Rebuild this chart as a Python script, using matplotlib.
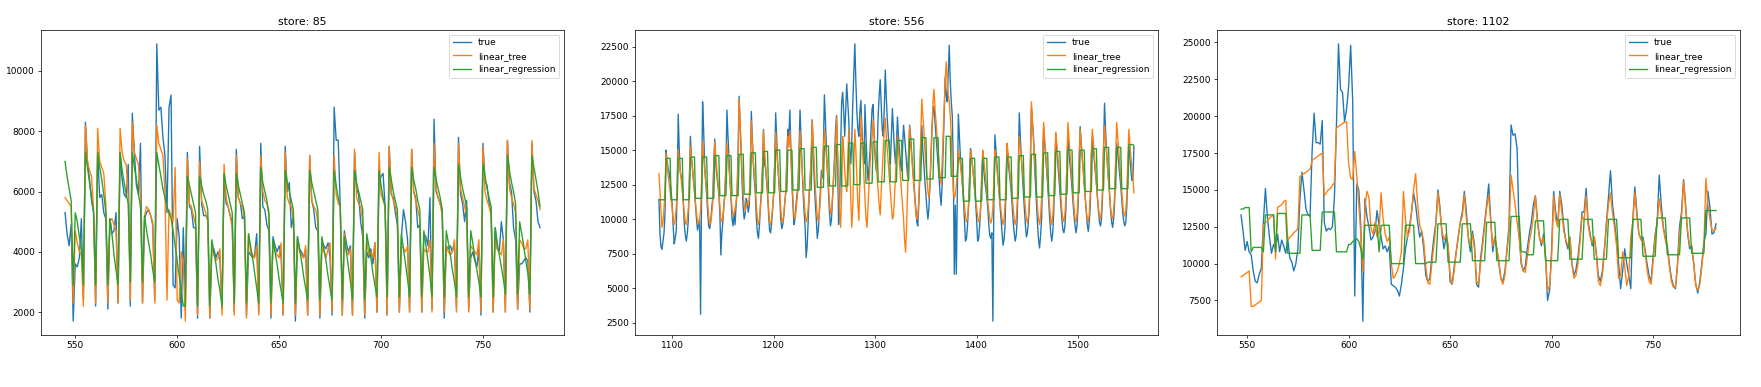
import numpy as np
import matplotlib.pyplot as plt

# values are in hundreds of sales

# ---- store 85 (x = 545 .. 778)
p1_start = 545
p1_true = [
    53, 46, 42, 49, 17,
    36, 35, 38, 51, 24,
    83, 70, 64, 57, 53, 22,
    73, 58, 59, 53, 51, 21,
    51, 46, 47, 53, 23,
    73, 64, 59, 58, 69, 22,
    86, 73, 62, 59, 76, 23,
    51, 53, 54, 52, 49, 24,
    109, 87, 88, 78, 72, 53,
    88, 92, 29, 28, 51, 45, 18, 48, 23,
    73, 55, 54, 48, 48, 18,
    75, 56, 52, 52, 51, 18,
    40, 41, 38, 40, 37, 21,
    66, 56, 55, 52, 50, 20,
    74, 58, 56, 51, 52, 19,
    40, 39, 38, 39, 46, 20,
    76, 55, 54, 49, 47, 18,
    45, 42, 40, 42, 38, 19,
    75, 60, 63, 48, 52, 17,
    45, 41, 40, 38, 41, 19,
    72, 57, 54, 48, 47, 18,
    43, 42, 41, 43, 38, 19,
    88, 77, 77, 55, 19,
    47, 43, 40, 42, 19,
    73, 61, 59, 50, 45, 18,
    40, 38, 41, 36, 43, 20,
    63, 65, 66, 55, 19,
    75, 59, 58, 53, 49, 20,
    45, 54, 50, 44, 20,
    74, 60, 58, 48, 49, 20,
    46, 45, 42, 58, 21,
    84, 60, 58, 56, 54, 18,
    42, 41, 42, 40, 43, 21,
    78, 59, 56, 50, 57, 21,
    38, 40, 37, 35, 41, 19,
    76, 64, 62, 56, 53, 20,
    48, 41, 40, 50, 44, 20,
    77, 63, 60, 48, 44, 21,
    36, 36, 37, 38, 37, 20,
    76, 60, 57, 50, 48,
]
p1_tree = [
    58, 57, 56, 55, 23,
    47, 43, 40, 39, 22,
    82, 70, 67, 65, 54, 23,
    81, 70, 68, 66, 56, 23,
    50, 51, 49, 47, 23,
    81, 73, 70, 69, 58, 24,
    83, 73, 71, 69, 58, 23,
    52, 55, 54, 52, 50, 23,
    82, 76, 74, 72, 60, 24,
    54, 52, 50, 68, 24, 23, 40, 36, 17,
    71, 56, 55, 52, 49, 19,
    70, 57, 55, 53, 50, 18,
    42, 39, 37, 38, 41, 19,
    69, 58, 55, 52, 48, 19,
    72, 58, 56, 55, 51, 18,
    46, 40, 39, 38, 42, 19,
    72, 60, 57, 56, 52, 19,
    43, 40, 39, 38, 43, 19,
    73, 58, 56, 55, 51, 19,
    44, 40, 39, 38, 42, 19,
    72, 57, 55, 54, 50, 19,
    42, 40, 38, 41, 43, 20,
    72, 59, 56, 55, 19,
    46, 40, 39, 41, 19,
    74, 58, 56, 55, 50, 19,
    44, 39, 40, 38, 43, 20,
    73, 59, 57, 55, 19,
    75, 60, 57, 55, 51, 20,
    42, 41, 40, 42, 20,
    74, 60, 57, 54, 51, 20,
    41, 40, 40, 44, 20,
    76, 61, 58, 56, 52, 20,
    42, 40, 39, 40, 44, 20,
    76, 61, 58, 55, 52, 20,
    42, 41, 40, 39, 44, 20,
    75, 60, 57, 55, 52, 20,
    44, 41, 40, 39, 44, 20,
    77, 61, 58, 56, 53, 21,
    44, 43, 41, 41, 44, 21,
    77, 61, 59, 57, 54,
]
p1_linreg = [
    70, 65, 61, 57, 29,
    53, 50, 45, 41, 29,
    73, 68, 63, 58, 53, 29,
    73, 68, 64, 59, 53, 29,
    51, 46, 39, 34, 29,
    73, 67, 63, 59, 56, 30,
    73, 68, 64, 59, 55, 30,
    52, 47, 43, 39, 34, 30,
    73, 69, 65, 61, 58, 55,
    53, 51, 47, 42, 37, 32, 27, 22, 22,
    65, 62, 59, 56, 53, 22,
    65, 62, 59, 57, 54, 22,
    44, 40, 36, 31, 27, 22,
    66, 62, 59, 56, 53, 23,
    66, 62, 59, 56, 53, 23,
    46, 42, 38, 33, 28, 23,
    68, 63, 60, 57, 53, 23,
    44, 40, 36, 31, 27, 23,
    67, 63, 60, 57, 54, 23,
    45, 41, 37, 32, 28, 24,
    67, 63, 60, 57, 54, 24,
    45, 41, 37, 32, 28, 24,
    67, 62, 58, 55, 24,
    45, 40, 35, 30, 24,
    67, 63, 60, 57, 54, 24,
    46, 42, 38, 33, 29, 25,
    67, 62, 58, 55, 25,
    68, 64, 60, 57, 54, 25,
    46, 41, 36, 31, 25,
    68, 64, 61, 57, 54, 25,
    47, 42, 37, 32, 25,
    68, 64, 61, 58, 54, 25,
    47, 43, 39, 34, 30, 25,
    69, 65, 61, 58, 55, 25,
    47, 43, 38, 34, 30, 25,
    69, 65, 61, 58, 55, 25,
    48, 43, 39, 35, 31, 26,
    72, 67, 63, 60, 56, 26,
    50, 46, 42, 37, 33, 26,
    72, 68, 64, 60, 55,
]

# ---- store 556 (x = 1087 .. 1555)
p2_start = 1087
p2_true = [
    114, 89, 80, 78, 84, 90, 105,
    150, 142, 137, 134, 128, 120, 111, 95, 82, 86, 91, 125,
    176, 150, 134, 131, 126, 112, 96, 88, 84, 90, 100, 130,
    160, 145, 138, 128, 120, 110, 100, 92, 96, 100, 31, 118,
    185, 165, 140, 128, 118, 105, 95, 93, 98, 108, 115, 140,
    158, 140, 132, 125, 118, 105, 74, 90, 98, 110, 120, 140,
    179, 160, 145, 128, 115, 100, 95, 104, 96, 110, 120, 150,
    189, 168, 145, 125, 108, 100, 104, 115, 112, 105, 110, 135,
    178, 158, 140, 128, 118, 100, 90, 86, 95, 110, 120, 135,
    165, 140, 137, 128, 118, 104, 92, 90, 97, 108, 118, 140,
    177, 158, 140, 128, 116, 100, 93, 96, 102, 112, 120, 145,
    165, 160, 179, 150, 125, 110, 96, 100, 110, 118, 125, 150,
    179, 158, 138, 120, 105, 95, 72, 80, 98, 118, 130, 145,
    172, 150, 128, 112, 100, 86, 92, 105, 120, 135, 130, 150,
    190, 172, 150, 135, 120, 105, 95, 100, 115, 130, 145, 165,
    175, 145, 96, 110, 150, 185, 192, 178, 160, 180, 198, 185,
    172, 150, 140, 158, 185, 205, 227, 200, 178, 165, 160, 178,
    186, 165, 150, 140, 183, 160, 140, 128, 138, 150, 165, 180,
    183, 160, 145, 135, 150, 175, 190, 201, 182, 165, 160, 180,
    208, 188, 172, 160, 150, 140, 160, 180, 165, 150, 140, 155,
    174, 160, 150, 140, 135, 150, 168, 160, 150, 140, 130, 150,
    168, 160, 148, 138, 128, 118, 108, 98, 95, 110, 130, 155,
    168, 150, 140, 128, 118, 108, 100, 108, 125, 145, 165, 178,
    182, 170, 160, 150, 140, 130, 118, 110, 125, 150, 175, 203,
    190, 185, 205, 226, 200, 185, 175, 140, 60, 110, 60, 120,
    176, 160, 145, 135, 125, 115, 100, 84, 86, 95, 110, 130,
    151, 145, 138, 130, 122, 112, 100, 84, 86, 95, 110, 130,
    145, 136, 128, 122, 116, 108, 96, 88, 86, 90, 26, 115,
    161, 150, 140, 130, 120, 110, 100, 90, 81, 85, 95, 125,
    150, 142, 135, 128, 120, 110, 98, 90, 84, 88, 100, 135,
    177, 160, 145, 132, 120, 108, 96, 87, 90, 98, 110, 140,
    181, 170, 160, 140, 125, 110, 96, 85, 79, 88, 100, 135,
    167, 155, 145, 135, 125, 112, 100, 90, 84, 90, 105, 135,
    162, 150, 140, 130, 120, 110, 100, 92, 90, 95, 108, 140,
    160, 148, 140, 132, 122, 112, 102, 95, 90, 96, 110, 140,
    167, 155, 145, 135, 125, 115, 104, 96, 91, 98, 110, 145,
    160, 150, 142, 134, 126, 116, 106, 98, 95, 100, 115, 150,
    184, 165, 150, 138, 128, 118, 106, 98, 94, 100, 112, 140,
    155, 148, 140, 132, 124, 114, 104, 98, 95, 98, 110, 135,
    153, 145, 135, 128, 130, 152,
]
p2_tree = [
    133, 120, 105, 94, 98, 108, 122,
    148, 140, 132, 126, 120, 114, 108, 100, 96, 100, 108, 125,
    150, 142, 135, 128, 120, 112, 104, 98, 96, 100, 108, 128,
    153, 144, 136, 128, 120, 112, 104, 98, 96, 100, 106, 128,
    156, 146, 136, 128, 120, 112, 102, 96, 98, 104, 112, 132,
    156, 146, 136, 128, 120, 110, 100, 98, 102, 110, 118, 135,
    155, 145, 136, 128, 118, 108, 102, 104, 108, 112, 120, 140,
    187, 170, 150, 132, 118, 110, 106, 110, 112, 110, 115, 135,
    171, 155, 142, 132, 122, 110, 100, 96, 100, 108, 118, 138,
    164, 150, 140, 130, 120, 108, 98, 96, 100, 108, 118, 138,
    163, 150, 140, 130, 120, 108, 98, 98, 104, 112, 120, 140,
    160, 152, 164, 148, 130, 115, 102, 100, 106, 114, 122, 142,
    164, 150, 138, 126, 114, 104, 98, 100, 108, 118, 128, 145,
    171, 155, 138, 124, 112, 102, 98, 104, 115, 128, 135, 150,
    165, 155, 145, 135, 125, 112, 104, 106, 115, 128, 140, 155,
    174, 150, 122, 106, 94, 120, 160, 150, 135, 125, 120, 140,
    165, 140, 115, 94, 110, 140, 165, 150, 130, 110, 99, 130,
    175, 160, 145, 130, 115, 100, 94, 110, 125, 140, 150, 160,
    172, 160, 150, 140, 130, 120, 110, 103, 120, 135, 150, 165,
    173, 160, 150, 140, 130, 120, 110, 100, 102, 115, 130, 150,
    160, 150, 140, 130, 120, 110, 100, 85, 76, 95, 120, 150,
    167, 155, 145, 135, 125, 115, 105, 100, 102, 115, 135, 160,
    187, 175, 165, 150, 140, 130, 120, 115, 125, 145, 165, 185,
    194, 180, 170, 160, 150, 140, 130, 125, 140, 160, 180, 200,
    214, 200, 190, 185, 175, 160, 140, 120, 115, 118, 125, 135,
    150, 145, 140, 132, 125, 118, 110, 102, 98, 100, 108, 125,
    150, 144, 138, 130, 122, 115, 108, 102, 98, 100, 108, 128,
    150, 144, 136, 128, 120, 112, 106, 100, 97, 100, 108, 130,
    150, 144, 136, 128, 120, 112, 106, 100, 96, 100, 110, 132,
    155, 148, 140, 132, 124, 116, 108, 100, 96, 100, 112, 138,
    160, 152, 144, 136, 128, 118, 108, 100, 97, 102, 115, 145,
    185, 170, 158, 145, 132, 120, 108, 100, 96, 102, 115, 145,
    170, 158, 148, 138, 128, 118, 108, 100, 96, 102, 114, 142,
    163, 154, 146, 136, 126, 116, 106, 100, 98, 104, 116, 145,
    170, 158, 148, 138, 128, 118, 108, 100, 98, 104, 116, 145,
    165, 155, 146, 136, 126, 116, 106, 100, 98, 104, 118, 148,
    165, 156, 146, 136, 126, 116, 108, 102, 100, 106, 120, 150,
    168, 158, 148, 138, 128, 118, 108, 102, 100, 106, 118, 145,
    170, 160, 150, 140, 130, 120, 110, 104, 102, 106, 118, 145,
    165, 155, 145, 138, 130, 119,
]
p2_linreg = [
    114, 114, 114, 114, 114, 114, 114,
    144, 144, 144, 144, 144, 114, 114, 114, 114, 114, 114, 114,
    144, 144, 144, 144, 144, 114, 114, 114, 114, 114, 114, 114,
    145, 145, 145, 145, 145, 115, 115, 115, 115, 115, 115, 115,
    145, 145, 145, 145, 145, 115, 115, 115, 115, 115, 115, 115,
    146, 146, 146, 146, 146, 117, 117, 117, 117, 117, 117, 117,
    146, 146, 146, 146, 146, 117, 117, 117, 117, 117, 117, 117,
    147, 147, 147, 147, 147, 118, 118, 118, 118, 118, 118, 118,
    148, 148, 148, 148, 148, 119, 119, 119, 119, 119, 119, 119,
    149, 149, 149, 149, 149, 119, 119, 119, 119, 119, 119, 119,
    150, 150, 150, 150, 150, 120, 120, 120, 120, 120, 120, 120,
    150, 150, 150, 150, 150, 121, 121, 121, 121, 121, 121, 121,
    151, 151, 151, 151, 151, 121, 121, 121, 121, 121, 121, 121,
    152, 152, 152, 152, 152, 123, 123, 123, 123, 123, 123, 123,
    153, 153, 153, 153, 153, 124, 124, 124, 124, 124, 124, 124,
    154, 154, 154, 154, 154, 124, 124, 124, 124, 124, 124, 124,
    155, 155, 155, 155, 155, 125, 125, 125, 125, 125, 125, 125,
    155, 155, 155, 155, 155, 126, 126, 126, 126, 126, 126, 126,
    156, 156, 156, 156, 156, 127, 127, 127, 127, 127, 127, 127,
    157, 157, 157, 157, 157, 127, 127, 127, 127, 127, 127, 127,
    157, 157, 157, 157, 157, 128, 128, 128, 128, 128, 128, 128,
    158, 158, 158, 158, 158, 128, 128, 128, 128, 128, 128, 128,
    159, 159, 159, 159, 159, 129, 129, 129, 129, 129, 129, 129,
    159, 159, 159, 159, 159, 130, 130, 130, 130, 130, 130, 130,
    160, 160, 160, 160, 160, 131, 131, 131, 131, 131, 131, 131,
    144, 144, 144, 144, 144, 113, 113, 113, 113, 113, 113, 113,
    144, 144, 144, 144, 144, 113, 113, 113, 113, 113, 113, 113,
    144, 144, 144, 144, 144, 114, 114, 114, 114, 114, 114, 114,
    145, 145, 145, 145, 145, 114, 114, 114, 114, 114, 114, 114,
    145, 145, 145, 145, 145, 115, 115, 115, 115, 115, 115, 115,
    146, 146, 146, 146, 146, 116, 116, 116, 116, 116, 116, 116,
    147, 147, 147, 147, 147, 116, 116, 116, 116, 116, 116, 116,
    148, 148, 148, 148, 148, 117, 117, 117, 117, 117, 117, 117,
    149, 149, 149, 149, 149, 118, 118, 118, 118, 118, 118, 118,
    150, 150, 150, 150, 150, 119, 119, 119, 119, 119, 119, 119,
    150, 150, 150, 150, 150, 120, 120, 120, 120, 120, 120, 120,
    151, 151, 151, 151, 151, 121, 121, 121, 121, 121, 121, 121,
    152, 152, 152, 152, 152, 122, 122, 122, 122, 122, 122, 122,
    152, 152, 152, 152, 152, 122, 122, 122, 122, 122, 122, 122,
    154, 154, 154, 154, 154, 153,
]

# ---- store 1102 (x = 547 .. 781)
p3_start = 547
p3_true = [
    133, 122, 109, 115, 108, 106, 95, 88, 87, 93, 97,
    128, 151, 131, 118, 107, 113, 110, 120, 108, 116,
    112, 107, 117, 104, 101, 95, 100, 110, 144, 162,
    150, 137, 133, 132, 176, 202, 182, 182, 181, 197,
    128, 122, 124, 123, 125, 145, 194, 249, 218, 216,
    196, 205, 220, 248, 210, 78, 154, 150, 125, 61,
    144, 132, 125, 116, 118, 122, 136, 126, 118, 110,
    112, 108, 112, 86, 85, 84, 82, 78, 86, 97,
    110, 118, 125, 135,
    148, 140, 128, 118, 122, 110, 92, 88, 90, 105, 118, 128,
    150, 138, 120, 110, 118, 112, 88, 86, 98, 108, 118, 128,
    135, 149, 135, 117, 108, 122, 113, 86, 84, 104, 115, 128,
    140, 154, 130, 108, 118, 110, 100, 90, 88, 95, 110, 125,
    194, 187, 188, 178, 120, 100, 95, 98, 110, 120, 128, 140,
    146, 130, 118, 112, 120, 105, 75, 82, 110, 149, 135, 125,
    149, 140, 125, 115, 110, 118, 100, 92, 96, 105, 118, 135,
    135, 151, 128, 120, 112, 118, 108, 92, 88, 95, 110, 128,
    145, 163, 140, 128, 115, 100, 83, 95, 110, 100, 92, 83,
    130, 152, 135, 120, 117, 118, 110, 100, 92, 88, 105, 120,
    128, 160, 140, 125, 118, 112, 100, 90, 85, 83, 100, 125,
    135, 157, 140, 120, 110, 112, 100, 86, 80, 88, 100, 115,
    120, 149, 138, 120, 121, 127,
]
p3_tree = [
    91, 92, 93, 94, 95,
    71, 71, 72, 73, 74, 75,
    126, 128, 129, 131, 132, 133,
    103,
    138, 139, 140, 142, 143,
    116, 118, 119, 121, 122, 124,
    159, 160, 161, 162, 163, 164,
    170, 171, 172, 173, 174, 175,
    146, 148, 150, 151, 153, 155,
    192, 193, 194, 195, 196, 196,
    168, 158, 157, 176, 160, 140, 120, 95,
    138, 149, 145, 124, 120, 128, 118, 122, 148, 130,
    120, 115, 118, 100, 90, 92, 95, 100, 108, 149,
    130, 118, 122, 135,
    150, 161, 140, 126, 122, 115, 98, 87, 86, 100, 112, 126,
    148, 135, 122, 116, 120, 113, 92, 86, 95, 108, 118, 128,
    132, 147, 130, 118, 112, 120, 110, 88, 86, 100, 112, 125,
    138, 147, 128, 112, 118, 110, 102, 90, 86, 92, 108, 122,
    160, 150, 140, 128, 118, 102, 95, 94, 104, 115, 122, 132,
    146, 128, 118, 114, 118, 105, 82, 85, 104, 146, 130, 125,
    147, 135, 122, 116, 112, 118, 100, 90, 92, 100, 115, 132,
    130, 146, 126, 118, 114, 118, 106, 88, 85, 92, 108, 126,
    140, 148, 134, 124, 112, 90, 92, 108, 98, 85, 92, 118,
    128, 148, 132, 120, 116, 116, 108, 96, 88, 86, 102, 118,
    128, 144, 134, 124, 116, 110, 98, 88, 84, 84, 98, 120,
    132, 156, 138, 122, 112, 112, 100, 85, 82, 86, 98, 112,
    158, 140, 130, 123, 122, 124,
]
p3_linreg = [
    137, 137, 138, 138, 138,
    108, 111, 111, 111, 111, 111, 108,
    133, 133, 133, 133, 133,
    108,
    134, 134, 134, 134, 134,
    107, 107, 107, 107, 107, 107, 107,
    133, 133, 133, 133, 133,
    109, 109, 109, 109, 109,
    135, 135, 135, 135, 135, 135, 135,
    108, 108, 108, 108, 108, 108,
    113, 113, 115, 116, 117, 115, 110, 103,
    126, 126, 126, 126, 126, 126, 126,
    108,
    126, 126, 126, 126, 126,
    100, 100, 100, 100, 100, 100, 100,
    126, 126, 126, 126,
    126, 100, 100, 100, 100, 100, 100, 101, 101, 101, 101, 101,
    127, 127, 127, 127, 127, 101, 101, 101, 101, 101, 101, 101,
    127, 127, 127, 127, 127, 102, 102, 102, 102, 102, 102, 102,
    128, 128, 128, 128, 128, 102, 102, 102, 102, 102, 102, 102,
    132, 132, 132, 132, 132, 108, 108, 108, 106, 106, 106, 106,
    129, 129, 129, 129, 129, 102, 102, 102, 102, 102, 102, 102,
    130, 130, 130, 130, 130, 103, 103, 103, 103, 103, 103, 103,
    130, 130, 130, 130, 130, 103, 103, 103, 103, 103, 103, 103,
    130, 130, 130, 130, 130, 104, 104, 104, 104, 104, 104, 104,
    130, 130, 130, 130, 130, 105, 105, 105, 105, 105, 105, 105,
    131, 131, 131, 131, 131, 106, 106, 106, 106, 106, 106, 106,
    131, 131, 131, 131, 131, 107, 107, 107, 107, 107, 107, 107,
    136, 136, 136, 136, 136, 136,
]

stores = [
    ('store: 85', p1_start, p1_true, p1_tree, p1_linreg),
    ('store: 556', p2_start, p2_true, p2_tree, p2_linreg),
    ('store: 1102', p3_start, p3_true, p3_tree, p3_linreg),
]

fig = plt.figure(figsize=(1761 / 65, 387 / 65), dpi=65)
lefts = [41.3 / 1761, 635.2 / 1761, 1217.3 / 1761]

for left, (title, start, y_true, y_tree, y_lr) in zip(lefts, stores):
    assert len(y_true) == len(y_tree) == len(y_lr), title
    ax = fig.add_axes([left, 52 / 387, 522.5 / 1761, 305 / 387])
    x = np.arange(start, start + len(y_true))
    ax.plot(x, np.array(y_true) * 100, label='true')
    ax.plot(x, np.array(y_tree) * 100, label='linear_tree')
    ax.plot(x, np.array(y_lr) * 100, label='linear_regression')
    ax.set_title(title)
    ax.legend(loc='upper right')

fig.savefig('out.png', dpi=65)
